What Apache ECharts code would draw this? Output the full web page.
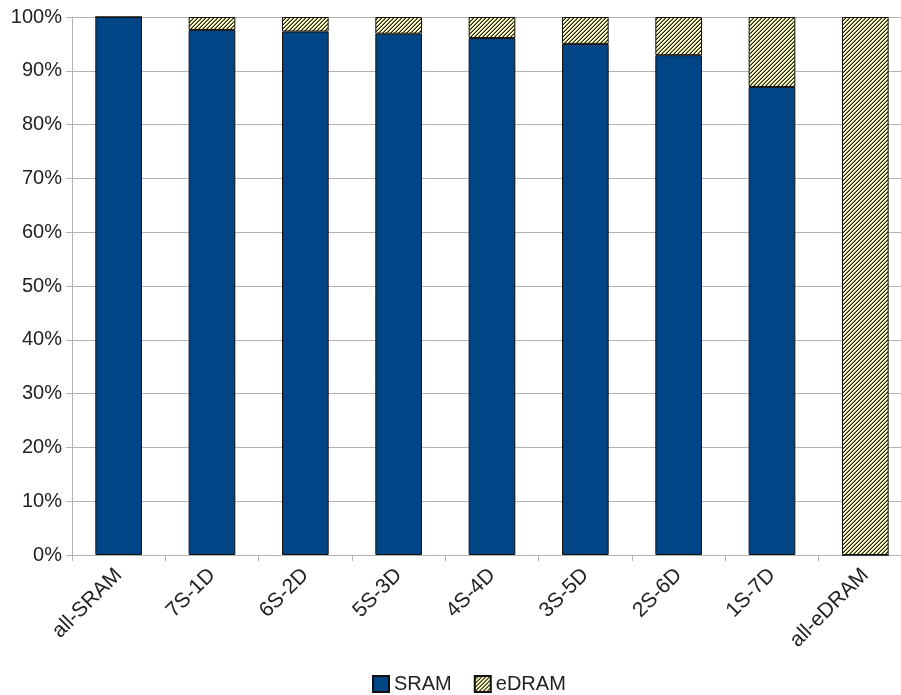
<!DOCTYPE html>
<html>
<head>
<meta charset="utf-8">
<script src="https://cdn.jsdelivr.net/npm/echarts@6/dist/echarts.min.js"></script>
<style>
  html, body { margin: 0; padding: 0; background: #fff; }
  #chart { width: 901px; height: 695px; }
</style>
</head>
<body>
<div id="chart"></div>
<script>
// Cache configurations: share of SRAM vs eDRAM ways
const categories = ['all-SRAM', '7S-1D', '6S-2D', '5S-3D', '4S-4D', '3S-5D', '2S-6D', '1S-7D', 'all-eDRAM'];
const sramShare  = [100, 97.6, 97.3, 96.9, 96.1, 95.0, 92.9, 87.0, 0];
const edramShare = [0, 2.4, 2.7, 3.1, 3.9, 5.0, 7.1, 13.0, 100];
const yTicks = { min: 0, max: 100, step: 10 };

// Diagonal hatch fill for the eDRAM series
function makeHatch() {
  const size = 8;
  const c = document.createElement('canvas');
  c.width = size; c.height = size;
  const ctx = c.getContext('2d');
  const img = ctx.createImageData(size, size);
  for (let y = 0; y < size; y++) {
    for (let x = 0; x < size; x++) {
      const k = (x + y) % 4;
      let r = 255, g = 255, b = 192;
      if (k === 3) { r = 30; g = 30; b = 20; }
      else if (k === 2) { r = 140; g = 140; b = 100; }
      const i = (y * size + x) * 4;
      img.data[i] = r; img.data[i + 1] = g; img.data[i + 2] = b; img.data[i + 3] = 255;
    }
  }
  ctx.putImageData(img, 0, 0);
  return c;
}

const gridGray = '#b3b3b3';
const textColor = '#222';
const fontFamily = '"Liberation Sans", Arial, sans-serif';

const chart = echarts.init(document.getElementById('chart'), null, { renderer: 'canvas' });
chart.setOption({
  animation: false,
  backgroundColor: '#fff',
  // plot area runs past the right edge of the canvas
  grid: { left: 72, top: 17, width: 840, height: 538, outerBoundsMode: 'none', containLabel: false },
  legend: {
    left: 367,
    top: 669,
    icon: 'rect',
    itemWidth: 16,
    itemHeight: 16,
    itemGap: 22,
    textStyle: { fontSize: 20, lineHeight: 20, color: textColor, fontFamily: fontFamily },
    data: ['SRAM', 'eDRAM']
  },
  xAxis: {
    type: 'category',
    data: categories,
    boundaryGap: true,
    axisLine: { lineStyle: { color: gridGray, width: 1 } },
    axisTick: { show: true, length: 6, lineStyle: { color: gridGray } },
    axisLabel: { rotate: 45, margin: 17, fontSize: 21, color: textColor, fontFamily: fontFamily, interval: 0 }
  },
  yAxis: {
    type: 'value',
    min: yTicks.min,
    max: yTicks.max,
    interval: yTicks.step,
    axisLine: { show: true, lineStyle: { color: gridGray, width: 1 } },
    axisTick: { show: true, length: 6, lineStyle: { color: gridGray } },
    splitLine: { show: true, lineStyle: { color: gridGray, width: 1 } },
    axisLabel: { formatter: '{value}%', margin: 10, fontSize: 20, color: textColor, fontFamily: fontFamily }
  },
  series: [
    {
      name: 'SRAM',
      type: 'bar',
      stack: 'share',
      barWidth: '50%',
      data: sramShare,
      itemStyle: { color: '#004586', borderColor: '#111', borderWidth: 1 }
    },
    {
      name: 'eDRAM',
      type: 'bar',
      stack: 'share',
      barWidth: '50%',
      data: edramShare,
      itemStyle: { color: { image: makeHatch(), repeat: 'repeat' }, borderColor: '#111', borderWidth: 1 }
    }
  ]
});
</script>
</body>
</html>
